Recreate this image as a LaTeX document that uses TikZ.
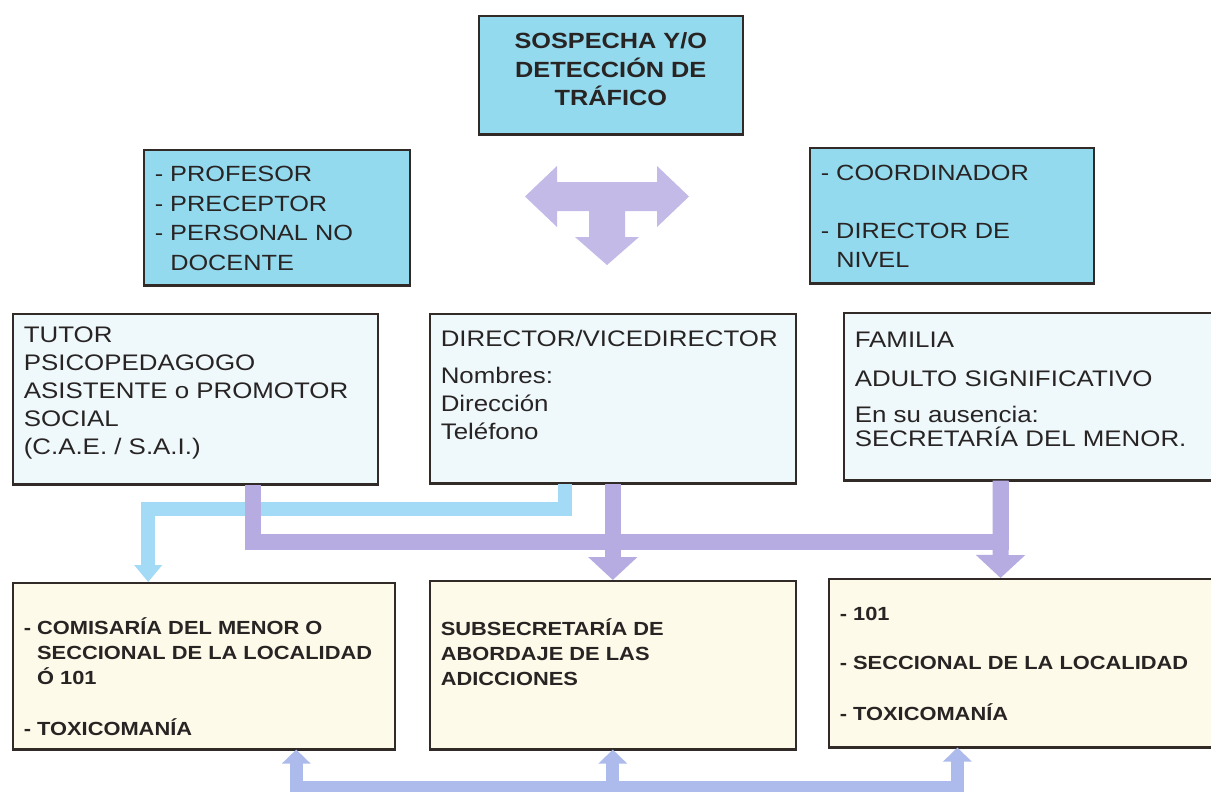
\documentclass[tikz,border=0pt]{standalone}
\usepackage{fontspec}
\setmainfont{Liberation Sans}[FakeStretch=1.15]
\usetikzlibrary{arrows.meta,calc}
\definecolor{myblue}{RGB}{148,218,238}
\definecolor{mypale}{RGB}{239,249,252}
\definecolor{mycream}{RGB}{253,250,233}
\definecolor{myline}{RGB}{50,42,38}
\definecolor{myink}{RGB}{40,36,36}
\definecolor{mypurple}{RGB}{183,172,226}
\definecolor{mylblue}{RGB}{163,218,245}
\definecolor{mybottom}{RGB}{172,186,236}
\definecolor{mytee}{RGB}{196,186,232}
% body of a box: width, height, space above the first line, text
\newcommand{\boxbody}[4]{\parbox[c][#2][t]{#1}{\raggedright\vspace*{#3}\strut#4}}

\begin{document}
\begin{tikzpicture}[x=1pt, y=-1pt,
    box/.style={draw=myline, line width=1.6pt, inner xsep=11pt, inner ysep=0pt,
        anchor=north west, text=myink},
    topbox/.style={box, fill=myblue},
    midbox/.style={box, fill=mypale, font=\fontsize{22.5}{28}\selectfont},
    lowbox/.style={box, fill=mycream, font=\fontsize{19}{25}\selectfont\bfseries},
    lbconn/.style={draw=mylblue, line width=14pt},
    puconn/.style={draw=mypurple, line width=16pt},
    boconn/.style={draw=mybottom, line width=13pt}]
    \useasboundingbox (0,0) rectangle (1211,792);
    \clip (0,0) rectangle (1211,792);
    \fill[white] (0,0) rectangle (1211,792);

    % Who detects it.
    \begin{scope}
        \node[topbox, font=\fontsize{22}{28.5}\selectfont\bfseries] (sospecha) at (478,15)
            {\boxbody{242pt}{118pt}{13pt}{\centering SOSPECHA Y/O\\DETECCIÓN DE\\TRÁFICO}};
        \node[topbox, font=\fontsize{22}{29.5}\selectfont] (profesor) at (143,149)
            {\boxbody{244pt}{135pt}{11.3pt}{- PROFESOR\\- PRECEPTOR\\- PERSONAL NO\\\phantom{- }DOCENTE}};
        \node[topbox, font=\fontsize{22}{29}\selectfont] (coordinador) at (809,147)
            {\boxbody{262pt}{135pt}{12.6pt}{- COORDINADOR\\[29pt]- DIRECTOR DE\\\phantom{- }NIVEL}};
        \fill[mytee] (525,196.5) -- (557,166) -- (557,182) -- (657,182) -- (657,166)
            -- (689,196.5) -- (657,227) -- (657,211) -- (625,211) -- (625,237)
            -- (639,237) -- (607,265) -- (575,237) -- (589,237) -- (589,211)
            -- (557,211) -- (557,227) -- cycle;
    \end{scope}

    % Who is told.
    \begin{scope}
        \node[midbox] (tutor) at (12,313)
            {\boxbody{343pt}{170pt}{8.6pt}{TUTOR\\PSICOPEDAGOGO\\ASISTENTE o PROMOTOR\\SOCIAL\\(C.A.E. / S.A.I.)}};
        \node[midbox] (director) at (429,313)
            {\boxbody{344pt}{169pt}{12.6pt}{DIRECTOR/VICEDIRECTOR\\[9pt]Nombres:\\Dirección\\Teléfono}};
        \node[midbox] (familia) at (843,312)
            {\boxbody{350pt}{167pt}{14.6pt}{FAMILIA\\[11pt]ADULTO SIGNIFICATIVO\\[8pt]En su ausencia:\\[-4pt]SECRETARÍA DEL MENOR.}};
    \end{scope}

    % Where to go.
    \begin{scope}
        \node[lowbox] (comisaria) at (12,582)
            {\boxbody{360pt}{166pt}{34.3pt}{- COMISARÍA DEL MENOR O\\\phantom{- }SECCIONAL DE LA LOCALIDAD\\\phantom{- }Ó 101\\[26pt]- TOXICOMANÍA}};
        \node[lowbox] (subsecretaria) at (429,580)
            {\boxbody{344pt}{168pt}{37.3pt}{SUBSECRETARÍA DE\\ABORDAJE DE LAS\\ADICCIONES}};
        \node[lowbox] (seccional) at (828,578)
            {\boxbody{365pt}{168pt}{24.3pt}{- 101\\[24pt]- SECCIONAL DE LA LOCALIDAD\\[26pt]- TOXICOMANÍA}};
    \end{scope}

    % heavier lower edges
    \foreach \n in {sospecha, profesor, coordinador, tutor, director, familia,
        comisaria, subsecretaria, seccional}
        \draw[myline, line width=2.6pt] (\n.south west) -- (\n.south east);

    % Connectors.
    \coordinate (lbfrom) at ($(director.south west)!0.37!(director.south east)$);
    \coordinate (lbto) at ($(comisaria.north west)!0.355!(comisaria.north east)$);
    \coordinate (pufrom) at ($(tutor.south west)!0.657!(tutor.south east)$);
    \coordinate (pufam) at ($(familia.south west)!0.422!(familia.south east)$);
    \coordinate (puto) at ($(seccional.north west)!0.444!(seccional.north east)$);
    \coordinate (boleft) at ($(comisaria.south west)!0.741!(comisaria.south east)$);
    \coordinate (boright) at ($(seccional.south west)!0.333!(seccional.south east)$);
    \draw[lbconn, -{Triangle[width=27pt, length=17pt]}] (lbfrom) -- ++(0,25) -| (lbto);
    \draw[puconn] (pufrom) -- ++(0,57) -| (pufam);
    \draw[puconn, -{Triangle[width=48pt, length=23pt]}] (pufam) -- (puto);
    \draw[puconn, -{Triangle[width=48pt, length=23pt]}] (director.south) -- (subsecretaria.north);
    \draw[boconn, {Triangle[width=28pt, length=14pt]}-{Triangle[width=28pt, length=14pt]}]
        (boleft) -- ++(0,38) -| (boright);
    \draw[boconn, -{Triangle[width=28pt, length=14pt]}]
        ($(subsecretaria.south)+(0,38)$) -- (subsecretaria.south);
\end{tikzpicture}
\end{document}
